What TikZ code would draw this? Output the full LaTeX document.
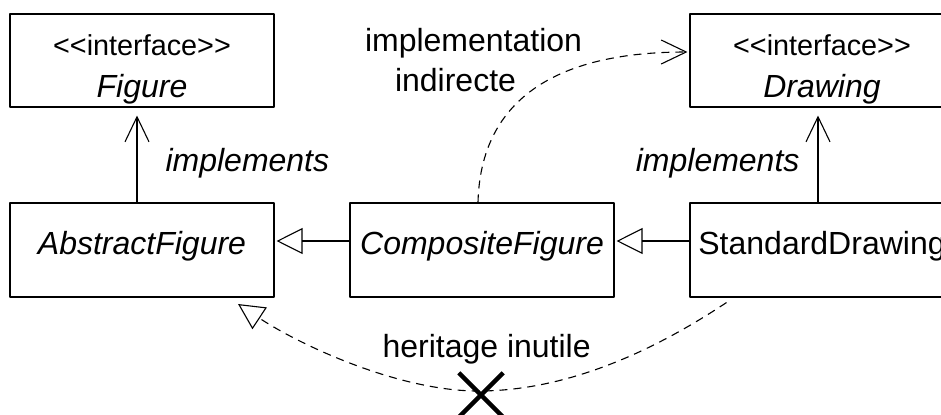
\documentclass[tikz,border=0pt]{standalone}
\usepackage{fontspec}
\setmainfont{Liberation Sans}
\usetikzlibrary{arrows.meta,shapes.misc}
\begin{document}
\begin{tikzpicture}[x=0.5pt, y=-0.5pt, line width=0.55pt, line join=round,
  font=\fontsize{16}{20}\selectfont,
  cls/.style={draw, inner sep=0pt, minimum width=132pt, text height=25.5pt, text depth=21.5pt},
  iface/.style={draw, inner sep=0pt, minimum width=132pt, align=center, font=\fontsize{16}{21}\selectfont, text height=41.65pt, text depth=4.85pt},
  lbl/.style={inner sep=0pt},
  impl/.style={-{Straight Barb[length=12.5pt, width=12pt]}},
  inh/.style={-{Triangle[open, length=13pt, width=13pt]}},
  dep/.style={dash pattern=on 4pt off 3pt},
  veto/.style={cross out, draw, line width=2.2pt, minimum size=20pt, inner sep=0pt}]
  \def\st#1{{\fontsize{14.4}{21}\selectfont #1}}
  \useasboundingbox (0,0) rectangle (941,414);
  \clip (0,0) rectangle (941,414);
  \node[iface] (fig) at (142,60.5) {\st{<{}<interface>{}>}\\\textit{Figure}};
  \node[iface] (drw) at (822,60.5) {\st{<{}<interface>{}>}\\\textit{Drawing}};
  \node[cls] (abs) at (142,250) {\textit{AbstractFigure}};
  \node[cls] (comp) at (482,250) {\textit{CompositeFigure}};
  \node[cls] (sd) at (822,250) {StandardDrawing};
  \node[lbl, anchor=base west, font=\fontsize{16}{20}\selectfont\itshape] (implfig) at (165,171) {implements};
  \node[lbl, anchor=base east, font=\fontsize{16}{20}\selectfont\itshape] (impldrw) at (800,171) {implements};
  \node[lbl, align=center, anchor=base] (indir) at (473.5,91) {implementation\\indirecte\hspace*{18pt}};
  \node[lbl, anchor=base west] (inutile) at (382,357) {heritage inutile};
  \node[veto] (bad) at (481,395) {};
  \coordinate (absfoot) at (238,304);
  \draw[impl] ([xshift=-2.5pt]abs.north) -- ([xshift=-2.5pt,yshift=-4pt]fig.south);
  \draw[impl] ([xshift=-2pt]sd.north) -- ([xshift=-2pt,yshift=-4pt]drw.south);
  \draw[inh] ([yshift=4.5pt]comp.west) -- ([xshift=1pt,yshift=4.5pt]abs.east);
  \draw[inh] ([yshift=4.5pt]sd.west) -- ([xshift=1pt,yshift=4.5pt]comp.east);
  \draw[dep, impl] ([xshift=-2pt]comp.north) .. controls (480,120) and (530,52) .. ([xshift=-1pt,yshift=4.25pt]drw.west);
  \draw[dep, inh] ([xshift=18.5pt,yshift=-2.5pt]sd.south west) .. controls (670,340) and (580,390) .. ([yshift=2pt]bad.center) .. controls (400,392) and (300,345) .. (absfoot);
\end{tikzpicture}
\end{document}
